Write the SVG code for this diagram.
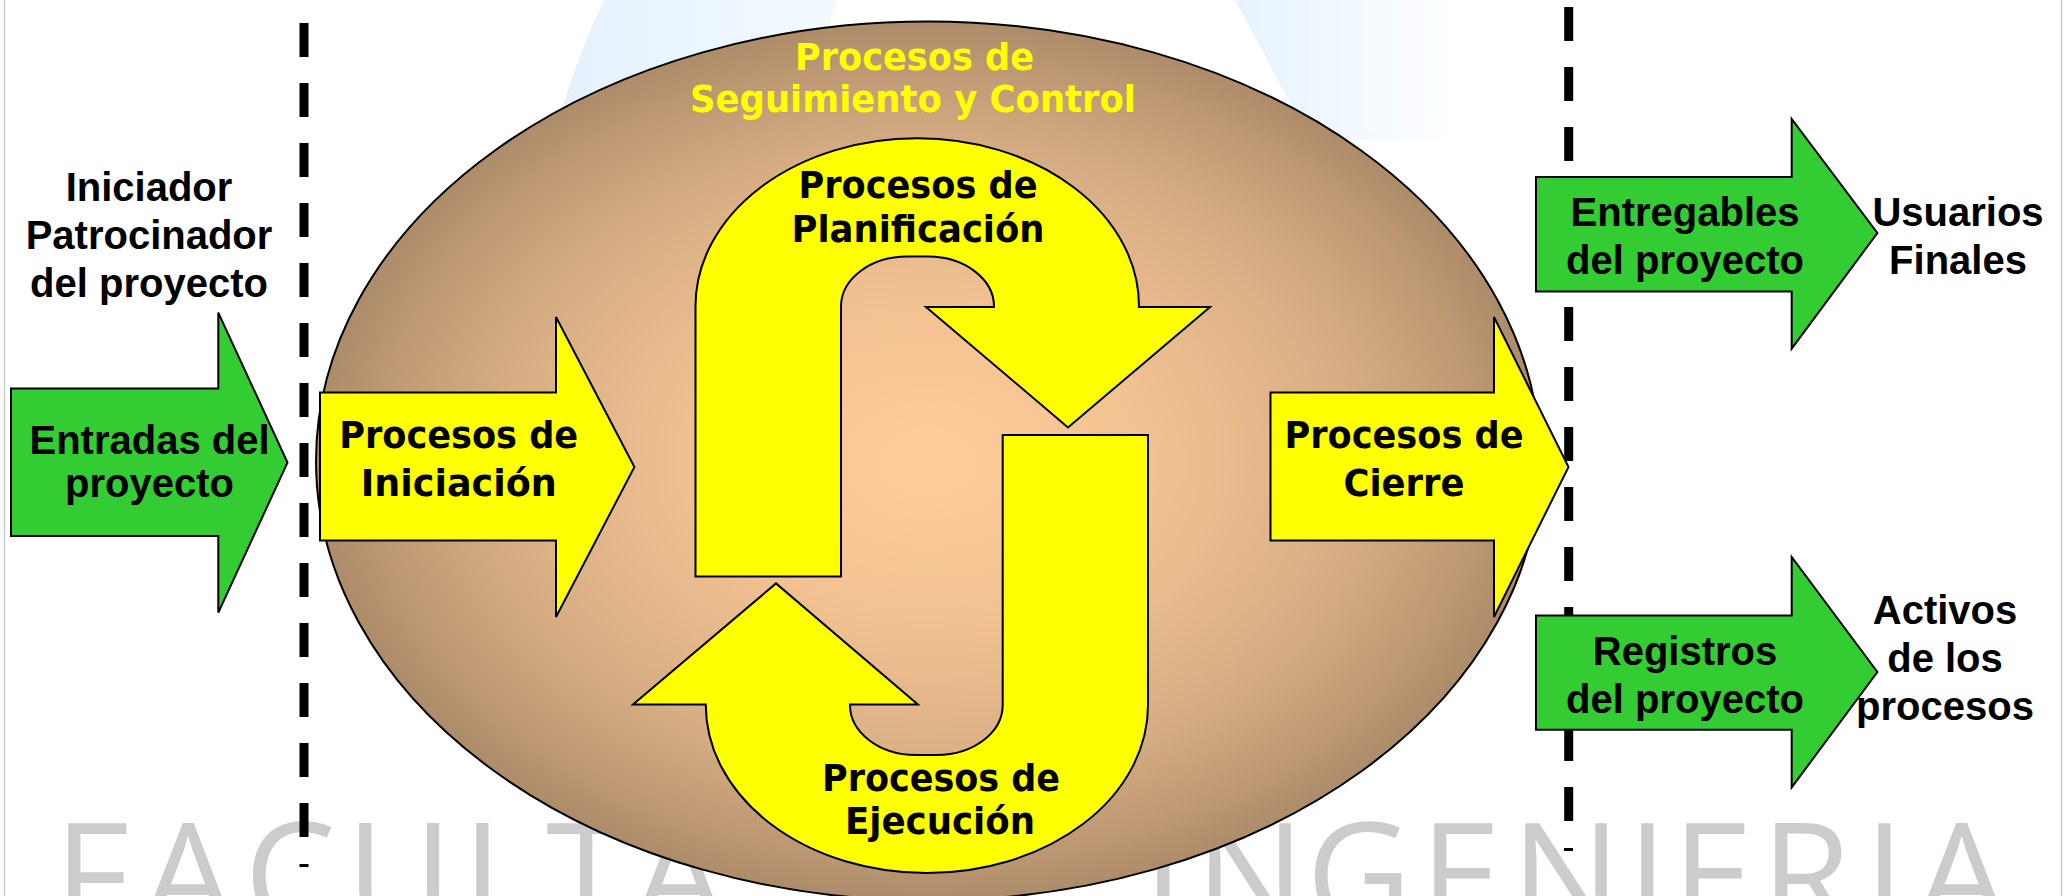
<svg xmlns="http://www.w3.org/2000/svg" width="2064" height="896" viewBox="0 0 2064 896">
<style>
.shape{stroke:#000;stroke-width:2;stroke-linejoin:miter}
.y{fill:#ffff00}
.g{fill:#33cc33}
.a{font-family:"Liberation Sans",Arial,sans-serif;font-weight:700;font-size:40px;fill:#000;text-anchor:middle}
.v{font-family:"DejaVu Sans",Verdana,sans-serif;font-weight:700;font-size:38px;fill:#000;text-anchor:middle}
.vy{fill:#ffff00}
.wm{font-family:"Open Sans",Arial,sans-serif;font-size:146px;fill:#cccccc;filter:url(#soft)}
.dash{stroke:#000;stroke-width:9;fill:none;stroke-dasharray:34 26}
.tick{stroke:#000;stroke-width:3;fill:none}
.edge{stroke:#cccccc;stroke-width:1.5;fill:none}
</style>
<defs>
<filter id="soft" x="-2%" y="-10%" width="104%" height="120%"><feGaussianBlur stdDeviation="0.7"/></filter>
<radialGradient id="brown" cx="0.5" cy="0.5" r="0.5">
<stop offset="0" stop-color="#ffcc99"/>
<stop offset="0.35" stop-color="#f3c292"/>
<stop offset="0.7" stop-color="#d7ae84"/>
<stop offset="0.86" stop-color="#c39d77"/>
<stop offset="1" stop-color="#ad8c69"/>
</radialGradient>
<linearGradient id="blueL" x1="0" y1="0" x2="1" y2="0">
<stop offset="0" stop-color="#e4f0fd"/>
<stop offset="1" stop-color="#f4fbff"/>
</linearGradient>
<linearGradient id="blueR" gradientUnits="userSpaceOnUse" x1="1235" y1="0" x2="1500" y2="0">
<stop offset="0" stop-color="#e6f2fe"/>
<stop offset="0.45" stop-color="#f2f9ff"/>
<stop offset="0.85" stop-color="#ffffff"/>
</linearGradient>
</defs>
<rect width="2064" height="896" fill="#ffffff"/>
<g id="background">
<path d="M604 0Q580 50 560 115H850L830 20L837 0Z" fill="url(#blueL)"/>
<path d="M1235 0L1310 140H1440Q1510 110 1498 74Q1490 30 1470 0Z" fill="url(#blueR)"/>
<line class="edge" x1="4.5" y1="0" x2="4.5" y2="896"/>
<line class="edge" x1="2061.5" y1="0" x2="2061.5" y2="896"/>
<text class="wm" y="928"><tspan x="54">F</tspan><tspan x="142">A</tspan><tspan x="244">C</tspan><tspan x="346">U</tspan><tspan x="462">L</tspan><tspan x="546">T</tspan><tspan x="633">A</tspan></text>
<text class="wm" y="928"><tspan x="1143">I</tspan><tspan x="1195">N</tspan><tspan x="1306">G</tspan><tspan x="1420">E</tspan><tspan x="1511">N</tspan><tspan x="1627">I</tspan><tspan x="1672">E</tspan><tspan x="1761">R</tspan><tspan x="1864">I</tspan><tspan x="1915.6">A</tspan></text>
</g>
<g id="connectors">
<line class="dash" x1="304" y1="23" x2="304" y2="839"/>
<line class="tick" x1="299.5" y1="865.5" x2="308.5" y2="865.5"/>
<line class="dash" x1="1568.7" y1="7" x2="1568.7" y2="822"/>
<line class="tick" x1="1564" y1="849.5" x2="1573" y2="849.5"/>
</g>
<g id="seguimiento">
<ellipse class="shape" cx="928" cy="461" rx="612" ry="439.5" fill="url(#brown)"/>
<text class="v vy" x="914.5" y="70" textLength="239" lengthAdjust="spacingAndGlyphs">Procesos de</text>
<text class="v vy" x="913" y="112" textLength="446" lengthAdjust="spacingAndGlyphs">Seguimiento y Control</text>
</g>
<g id="planificacion">
<path class="shape y" d="M695.5 576.6V306A221.7 168 0 0 1 917 138.3A221.7 168 0 0 1 1139 307H1210L1068 427.4L926 307H994A66 50 0 0 0 928 256.6H907A66 50 0 0 0 841 306V576.6Z"/>
<text class="v" x="918" y="198" textLength="239" lengthAdjust="spacingAndGlyphs">Procesos de</text>
<text class="v" x="918" y="242" textLength="253" lengthAdjust="spacingAndGlyphs">Planificación</text>
</g>
<g id="ejecucion">
<path class="shape y" d="M1002.7 434.9H1148V705A221 168 0 0 1 927 873A221 168 0 0 1 705.8 704.6H633L776 583.4L917.9 704.6H850A66 50 0 0 0 916 755H937A66 50 0 0 0 1002.7 705Z"/>
<text class="v" x="941" y="791" textLength="238" lengthAdjust="spacingAndGlyphs">Procesos de</text>
<text class="v" x="940" y="834" textLength="190" lengthAdjust="spacingAndGlyphs">Ejecución</text>
</g>
<g id="iniciacion">
<path class="shape y" d="M320 392.6H556V317L634.4 467L556 617V540.6H320Z"/>
<text class="v" x="458.7" y="448" textLength="239" lengthAdjust="spacingAndGlyphs">Procesos de</text>
<text class="v" x="458.7" y="496" textLength="196" lengthAdjust="spacingAndGlyphs">Iniciación</text>
</g>
<g id="cierre">
<path class="shape y" d="M1270.5 392.6H1494V317L1568.5 467L1494 617V540.6H1270.5Z"/>
<text class="v" x="1404" y="448" textLength="239" lengthAdjust="spacingAndGlyphs">Procesos de</text>
<text class="v" x="1404" y="496" textLength="121" lengthAdjust="spacingAndGlyphs">Cierre</text>
</g>
<g id="iniciador">
<text class="a" x="149" y="201">Iniciador</text>
<text class="a" x="149" y="249">Patrocinador</text>
<text class="a" x="149" y="297">del proyecto</text>
</g>
<g id="entradas">
<path class="shape g" d="M11 388.6H218.3V312.6L287.5 462.6L218.3 612.6V536H11Z"/>
<text class="a" x="149.5" y="454">Entradas del</text>
<text class="a" x="149.5" y="497">proyecto</text>
</g>
<g id="entregables">
<path class="shape g" d="M1536 177H1791.7V119L1877.4 233L1791.7 348.6V291.4H1536Z"/>
<text class="a" x="1685" y="226">Entregables</text>
<text class="a" x="1685" y="274">del proyecto</text>
</g>
<g id="registros">
<path class="shape g" d="M1536 615.4H1791.7V557L1877.4 672L1791.7 787.4V729.7H1536Z"/>
<text class="a" x="1685" y="665">Registros</text>
<text class="a" x="1685" y="713">del proyecto</text>
</g>
<g id="usuarios">
<text class="a" x="1958" y="226">Usuarios</text>
<text class="a" x="1958" y="274">Finales</text>
</g>
<g id="activos">
<text class="a" x="1945" y="624">Activos</text>
<text class="a" x="1945" y="672">de los</text>
<text class="a" x="1945" y="720">procesos</text>
</g>
</svg>
